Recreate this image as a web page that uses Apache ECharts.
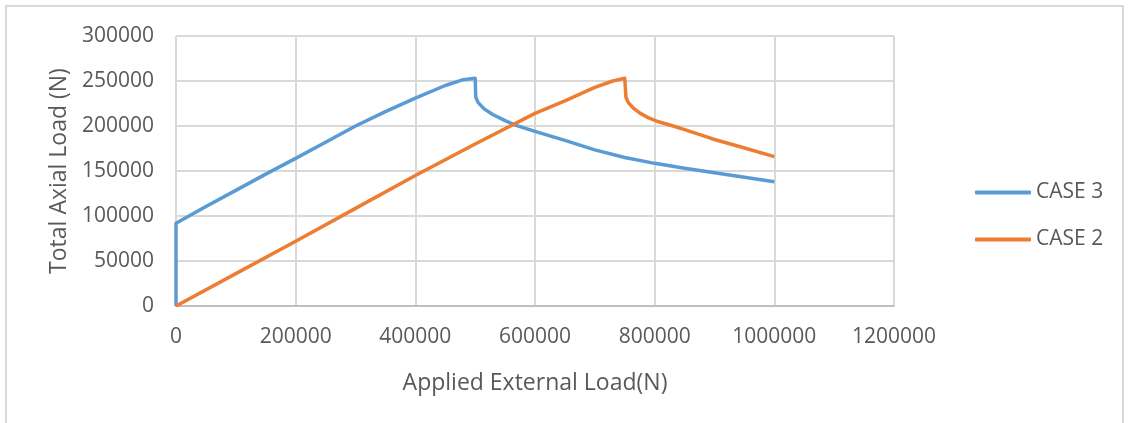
<!DOCTYPE html>
<html>
<head>
<meta charset="utf-8">
<script src="https://cdn.jsdelivr.net/npm/echarts@6/dist/echarts.min.js"></script>
<style>
	html, body { margin: 0; padding: 0; background: #fff; }
	#frame { position: absolute; left: 5px; top: 5px; width: 1119px; height: 430px; border: 2px solid #d9d9d9; box-sizing: border-box; }
	#chart { position: absolute; left: 0; top: 0; width: 1130px; height: 423px; }
</style>
</head>
<body>
<div id="frame"></div>
<div id="chart"></div>
<script>
	// CASE 3 (blue) - applied load vs total axial load
	const case3X = [0, 0, 50000, 100000, 150000, 200000, 250000, 300000, 350000, 400000, 450000, 480000, 500000, 501000, 505000, 515000, 530000, 550000, 567000, 600000, 650000, 700000, 750000, 800000, 850000, 900000, 950000, 1000000];
	const case3Y = [0, 92000, 110500, 128500, 146500, 164000, 182000, 200000, 216000, 231000, 245000, 251500, 253000, 232000, 226000, 219000, 212500, 206000, 201000, 194000, 184000, 173500, 165000, 158500, 153000, 148000, 143000, 138000];
	// CASE 2 (orange)
	const case2X = [0, 100000, 200000, 300000, 400000, 500000, 600000, 650000, 700000, 730000, 750000, 752000, 756000, 765000, 776000, 790000, 805000, 831000, 850000, 887000, 900000, 943000, 1000000];
	const case2Y = [0, 36000, 72000, 108500, 145000, 180000, 214000, 228000, 243000, 250000, 253000, 232000, 226000, 219500, 214000, 209000, 205000, 200000, 196000, 188000, 185000, 177000, 166000];

	const textColor = '#595959';
	const gridColor = '#d9d9d9';
	const font = '"Open Sans", sans-serif';

	function zip(xs, ys) {
		let out = [];
		for (let i = 0; i < xs.length; i++) {
			out.push([xs[i], ys[i]]);
		}
		return out;
	}

	const myChart = echarts.init(document.getElementById('chart'));
	const option = {
		animation: false,
		grid: {
			left: 176,
			right: 236,
			top: 36,
			bottom: 117
		},
		legend: {
			orient: 'vertical',
			left: 970,
			top: 177,
			itemWidth: 56,
			itemHeight: 4,
			itemGap: 26,
			icon: 'roundRect',
			textStyle: {
				color: textColor,
				fontSize: 21,
				fontFamily: font
			},
			data: ['CASE 3', 'CASE 2']
		},
		xAxis: {
			type: 'value',
			min: 0,
			max: 1200000,
			interval: 200000,
			name: 'Applied External Load(N)',
			nameLocation: 'middle',
			nameGap: 66,
			nameTextStyle: {
				color: textColor,
				fontSize: 23,
				fontFamily: font
			},
			axisLine: {
				show: true,
				lineStyle: { color: '#bfbfbf', width: 2 }
			},
			axisTick: { show: false },
			axisLabel: {
				color: textColor,
				fontSize: 21,
				fontFamily: font,
				margin: 21,
				formatter: (v) => String(v)
			},
			splitLine: {
				show: true,
				lineStyle: { color: gridColor, width: 2 }
			}
		},
		yAxis: {
			type: 'value',
			min: 0,
			max: 300000,
			interval: 50000,
			name: 'Total Axial Load (N)',
			nameLocation: 'middle',
			nameGap: 104,
			nameTextStyle: {
				color: textColor,
				fontSize: 23,
				fontFamily: font
			},
			axisLine: { show: false },
			axisTick: { show: false },
			axisLabel: {
				color: textColor,
				fontSize: 21,
				fontFamily: font,
				margin: 22,
				formatter: (v) => String(v)
			},
			splitLine: {
				show: true,
				lineStyle: { color: gridColor, width: 2 }
			}
		},
		series: [{
				name: 'CASE 3',
				type: 'line',
				symbol: 'none',
				color: '#5b9bd5',
				lineStyle: { width: 3.5, color: '#5b9bd5', join: 'round' },
				data: zip(case3X, case3Y)
			},
			{
				name: 'CASE 2',
				type: 'line',
				symbol: 'none',
				color: '#ed7d31',
				lineStyle: { width: 3.5, color: '#ed7d31', join: 'round' },
				data: zip(case2X, case2Y)
			}
		]
	};
	myChart.setOption(option);
</script>
</body>
</html>
